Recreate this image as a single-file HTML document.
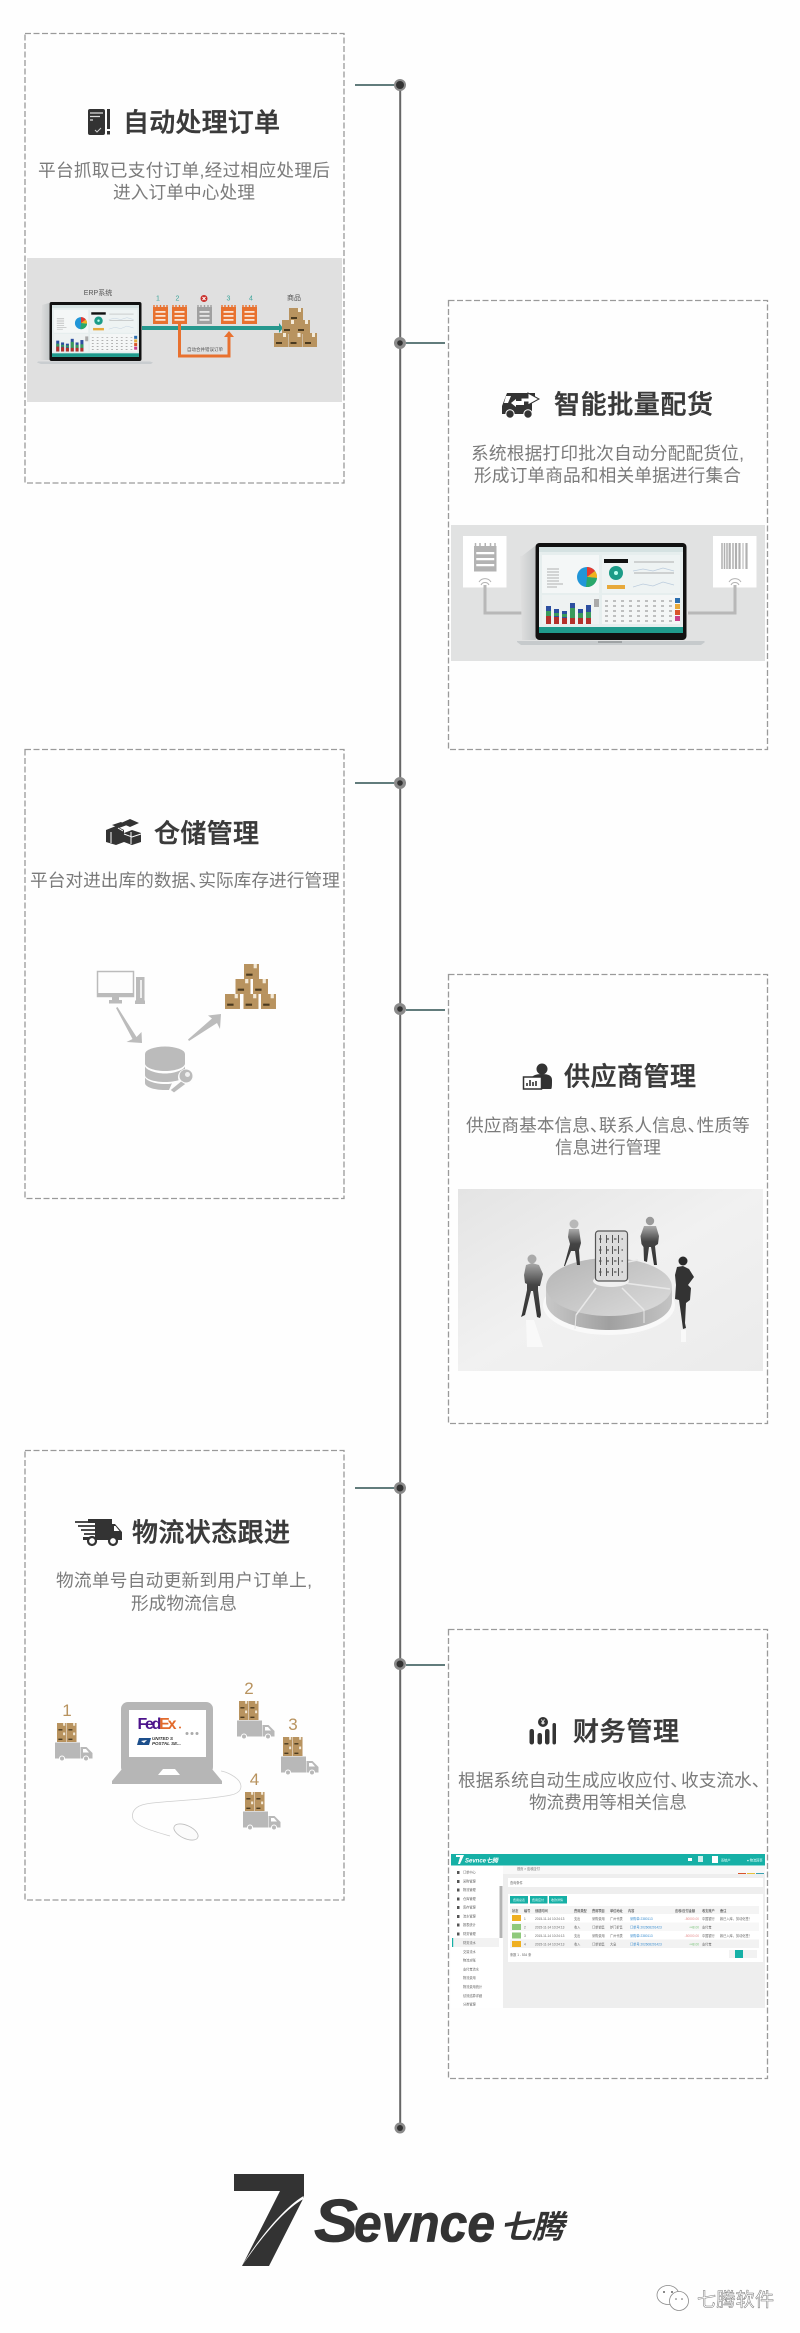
<!DOCTYPE html>
<html lang="zh"><head><meta charset="utf-8"><title>七腾软件</title>
<style>
html,body{margin:0;padding:0;background:#fefefe}
svg{display:block}
text{font-family:"Liberation Sans","Noto Sans CJK SC",sans-serif}
.t{font-size:26px;font-weight:500;fill:#3a3a3a;stroke:#3a3a3a;stroke-width:.45px}
.d{font-size:17.7px;fill:#7b7b7b}
.s{font-size:3.2px;fill:#666}
</style></head><body>
<svg xmlns="http://www.w3.org/2000/svg" width="800" height="2333" viewBox="0 0 800 2333">
<defs>
<g id="bx"><rect width="14" height="14" fill="#b8935f"/><rect x="9" width="3" height="4" fill="#f4ead8"/><rect x="2" y="9" width="6" height="2" fill="#4a3a20"/></g>
<g id="np"><rect y="2" width="15" height="17" fill="#e8712f"/><path d="M1 2v-2M4 2v-2M7.500 2v-2M11 2v-2M14 2v-2" stroke="#e8712f" stroke-width="1.400"/><rect x="2.500" y="6" width="10" height="1.800" fill="#fbe3d3"/><rect x="2.500" y="10" width="10" height="1.800" fill="#fbe3d3"/><rect x="2.500" y="14" width="10" height="1.800" fill="#fbe3d3"/></g>
<g id="scr">
<rect width="144" height="86" fill="#e6eeee"/><rect width="144" height="5" fill="#d5e2e2"/>
<rect x="3" y="8" width="57" height="38" fill="#f4f7f7"/><rect x="63" y="8" width="78" height="38" fill="#eef3f3"/>
<rect x="3" y="48" width="57" height="29" fill="#eef2f2"/><rect x="63" y="48" width="78" height="29" fill="#f4f6f6"/>
<circle cx="48" cy="30" r="10" fill="#2196d8"/>
<path d="M48 30V20A10 10 0 0 1 56 24Z" fill="#e53a2f"/><path d="M48 30L56 24A10 10 0 0 1 58 31Z" fill="#f2b21c"/><path d="M48 30L58 31A10 10 0 0 1 47 40Z" fill="#29a86a"/>
<rect x="65" y="12" width="24" height="4" fill="#111"/>
<circle cx="77" cy="26" r="7" fill="#1c9c88"/><circle cx="77" cy="26" r="2" fill="#bfe"/>
<rect x="68" y="38" width="18" height="4" fill="#e7a93b"/>
<path d="M8 22h12M8 25h12M8 28h12M8 31h12M8 34h12M8 37h16M8 40h10M95 15h40M95 26h40" stroke="#999" stroke-width=".7"/>
<path d="M94 24l10-2 10 2 10-3 11 3M94 40l10-3 10 2 10-4 11 3" fill="none" stroke="#bcd" stroke-width=".7"/>
<g><rect x="7" y="59" width="5" height="18" fill="#2c4fa0"/><rect x="7" y="64" width="5" height="5" fill="#3a9a5c"/><rect x="7" y="69" width="5" height="8" fill="#b4302b"/>
<rect x="15" y="62" width="5" height="15" fill="#2c4fa0"/><rect x="15" y="66" width="5" height="3" fill="#3a9a5c"/><rect x="15" y="70" width="5" height="7" fill="#b4302b"/>
<rect x="23" y="64" width="5" height="13" fill="#2c4fa0"/><rect x="23" y="67" width="5" height="3" fill="#3a9a5c"/><rect x="23" y="71" width="5" height="6" fill="#b4302b"/>
<rect x="31" y="56" width="5" height="21" fill="#2c4fa0"/><rect x="31" y="61" width="5" height="10" fill="#3a9a5c"/><rect x="31" y="71" width="5" height="6" fill="#b4302b"/>
<rect x="39" y="62" width="5" height="15" fill="#2c4fa0"/><rect x="39" y="66" width="5" height="5" fill="#3a9a5c"/><rect x="39" y="71" width="5" height="6" fill="#b4302b"/>
<rect x="47" y="58" width="5" height="19" fill="#2c4fa0"/><rect x="47" y="65" width="5" height="6" fill="#3a9a5c"/><rect x="47" y="71" width="5" height="6" fill="#b4302b"/></g>
<rect x="55" y="52" width="5" height="8" fill="#aaa"/>
<path d="M66 54h68M66 59h68M66 64h68M66 69h68M66 74h68" stroke="#888" stroke-width="1" stroke-dasharray="3 5"/>
<rect x="136" y="51" width="5" height="5" fill="#2c6fb0"/><rect x="136" y="57" width="5" height="5" fill="#e7a93b"/><rect x="136" y="63" width="5" height="5" fill="#d9552b"/><rect x="136" y="69" width="5" height="5" fill="#c9418a"/>
<rect y="80" width="144" height="6" fill="#1f9a8c"/>
</g>
<g id="tk">
<use href="#bx" transform="translate(57 1723) scale(.68)"/><use href="#bx" transform="translate(67 1723) scale(.68)"/><use href="#bx" transform="translate(57 1732.500) scale(.68)"/><use href="#bx" transform="translate(67 1732.500) scale(.68)"/>
<rect x="55" y="1742.500" width="25" height="16" fill="#b8b8b8"/>
<path d="M80.500 1747h6l6 6v5.500h-12z" fill="#b8b8b8"/><path d="M83 1749h3l3 3.500h-6z" fill="#fff"/>
<circle cx="62" cy="1758.500" r="2.500" fill="#b8b8b8" stroke="#fff"/><circle cx="86" cy="1758.500" r="2.500" fill="#b8b8b8" stroke="#fff"/>
</g>
<linearGradient id="bg4" x1="0" y1="0" x2="1" y2="1"><stop offset="0" stop-color="#e4e4e4"/><stop offset=".5" stop-color="#f1f1f1"/><stop offset="1" stop-color="#ebebeb"/></linearGradient>
<linearGradient id="pt" x1="0" y1="0" x2="1" y2="1"><stop offset="0" stop-color="#b4b4b4"/><stop offset="1" stop-color="#dcdcdc"/></linearGradient>
<linearGradient id="ps" x1="0" y1="0" x2="1" y2="0"><stop offset="0" stop-color="#c8c8c8"/><stop offset=".5" stop-color="#a0a0a0"/><stop offset="1" stop-color="#c4c4c4"/></linearGradient>
<linearGradient id="mg" x1="0" y1="0" x2="0" y2="1"><stop offset="0" stop-color="#aaa"/><stop offset=".4" stop-color="#444"/><stop offset="1" stop-color="#333"/></linearGradient>
<linearGradient id="sh" x1="0" y1="0" x2="1" y2="0"><stop offset="0" stop-color="#e0e0e0"/><stop offset="1" stop-color="#c3c7c8"/></linearGradient>
</defs>

<!-- timeline -->
<rect x="399.200" y="85" width="2" height="2043" fill="#666"/>
<g stroke="#2e5050" stroke-width="1.500"><path d="M355 85h39M406 343h39M355 783h39M406 1010h39M355 1488h39M406 1665h39"/></g>
<g fill="#8a8a8a"><circle cx="400" cy="85" r="6"/><circle cx="400" cy="343" r="6"/><circle cx="400" cy="783" r="6"/><circle cx="400" cy="1009" r="6"/><circle cx="400" cy="1488" r="6"/><circle cx="400" cy="1664" r="6"/><circle cx="400" cy="2128" r="5.500"/></g>
<g fill="#333"><circle cx="400" cy="85" r="4"/><circle cx="400" cy="343" r="2.800"/><circle cx="400" cy="783" r="2.800"/><circle cx="400" cy="1009" r="2.800"/><circle cx="400" cy="1488" r="3.500"/><circle cx="400" cy="1664" r="3.500"/><circle cx="400" cy="2128" r="3"/></g>

<!-- cards -->
<g fill="none" stroke="#9a9a9a" stroke-width="1.300" stroke-dasharray="6 2.500">
<rect x="25" y="33.500" width="319" height="449.500"/><rect x="448.500" y="300.500" width="319" height="449"/>
<rect x="25" y="749.500" width="319" height="449"/><rect x="448.500" y="974.500" width="319" height="449"/>
<rect x="25" y="1450.500" width="319" height="449.500"/><rect x="448.500" y="1629.500" width="319" height="449"/>
</g>

<!-- titles and descriptions -->
<text class="t" x="123" y="131.500" textLength="157">自动处理订单</text>
<text class="d" x="38" y="176.500" textLength="292">平台抓取已支付订单,经过相应处理后</text>
<text class="d" x="113" y="198.500" textLength="142">进入订单中心处理</text>
<text class="t" x="554" y="413.500" textLength="159">智能批量配货</text>
<text class="d" x="471" y="459.500" textLength="273">系统根据打印批次自动分配配货位,</text>
<text class="d" x="474" y="481.500" textLength="267">形成订单商品和相关单据进行集合</text>
<text class="t" x="154" y="842.500" textLength="105">仓储管理</text>
<text class="d" x="30" y="886.500">平台对进出库的数据、<tspan dx="-8.600">实际库存进行管理</tspan></text>
<text class="t" x="564" y="1085.500" textLength="132">供应商管理</text>
<text class="d" x="466" y="1131.500">供应商基本信息、<tspan dx="-8.500">联系人信息、</tspan><tspan dx="-8.500">性质等</tspan></text>
<text class="d" x="555" y="1153.500" textLength="106">信息进行管理</text>
<text class="t" x="132" y="1541.500" textLength="158">物流状态跟进</text>
<text class="d" x="56" y="1586.500" textLength="256">物流单号自动更新到用户订单上,</text>
<text class="d" x="131" y="1609.500" textLength="106">形成物流信息</text>
<text class="t" x="573" y="1740.500" textLength="106">财务管理</text>
<text class="d" x="458" y="1786.500">根据系统自动生成应收应付、<tspan dx="-7">收支流水、</tspan></text>
<text class="d" x="529" y="1808.500" textLength="158">物流费用等相关信息</text>

<!-- title icons -->
<rect x="88" y="109" width="17" height="26" rx="2" fill="#333"/><path d="M90 113h13M90 116.500h10M90 120h3" stroke="#ddd" stroke-width="1.200"/><path d="M95 130l2 2 4-4" fill="none" stroke="#ccc"/>
<rect x="107" y="109" width="3" height="20" fill="#333"/><rect x="107" y="131" width="3" height="3.500" fill="#333"/>

<path d="M502 414v-8l5-13h28v6h-3v15z" fill="#333"/>
<path d="M521 398h7v-4l-0 -1 11 6-11 6v-3h-7z" fill="#fff" stroke="#333" stroke-width="1"/>
<path d="M524 401h-8v-2l-5 4 5 4v-2h8z" fill="#fff"/>
<path d="M506 396h5l-3 7h-4z" fill="#fff"/>
<circle cx="510" cy="414" r="4.200" fill="#333" stroke="#fff"/><circle cx="528" cy="414" r="4.200" fill="#333" stroke="#fff"/>

<g fill="#333"><path d="M106 830l10-4 8 4v12l-8 3-10-3z"/><path d="M121 823l9-4 9 4-9 4z"/><path d="M124 833l8-3 9 3v9l-9 3-8-3z"/><path d="M112 825l9-3 6 3-8 3z"/></g>
<path d="M111 832v11M131 832v12M124 834l8 3 9-3M118 828l5 3" stroke="#fff" fill="none"/>

<circle cx="542" cy="1069" r="5.500" fill="#333"/><path d="M531 1089v-9c0-4 4-6 11-6s10 2 10 6 0 9-1 9z" fill="#333"/>
<rect x="523.500" y="1077" width="18" height="12" fill="#fff" stroke="#333" stroke-width="1.500"/><path d="M527 1086v-3M530 1086v-6M533 1086v-4M536 1086v-5" stroke="#333" stroke-width="1.600"/>

<path d="M88 1519h22v4h-22zM95 1519h17v20h-17z" fill="#333"/><path d="M112 1524h3l7 8v7h-10z" fill="#333"/><path d="M114 1526h1.500l4 5h-5.500z" fill="#fff"/>
<path d="M75 1522h20M78 1526h17M81 1530h14M84 1534h11" stroke="#333" stroke-width="1.800"/>
<rect x="83" y="1537" width="39" height="3" fill="#333"/>
<circle cx="92" cy="1541" r="4" fill="#fff" stroke="#333" stroke-width="2.200"/><circle cx="113" cy="1541" r="4" fill="#fff" stroke="#333" stroke-width="2.200"/>

<g fill="#333"><rect x="529.500" y="1729" width="4.500" height="15.500" rx="2.200"/><rect x="537.500" y="1733" width="4.500" height="11.500" rx="2.200"/><rect x="545" y="1729" width="4.500" height="15.500" rx="2.200"/><rect x="552.500" y="1723" width="3.500" height="21.500" rx="1.700"/><circle cx="543" cy="1722" r="5"/></g>
<text x="543" y="1724.500" text-anchor="middle" style="font-size:7px;font-weight:700" fill="#fff">¥</text>

<!-- band 1 -->
<rect x="27" y="258" width="315" height="144" fill="#e0e0e0"/>
<path d="M49 303l-7 2-2 55h10z" fill="url(#sh)"/>
<rect x="49.500" y="302" width="92" height="59" rx="2" fill="#111"/>
<use href="#scr" transform="translate(52 305) scale(.604)"/>
<path d="M38 361.500h112l3 1-2 1.500h-110l-4-1.500z" fill="#c9cdd0"/>
<text x="98" y="295" text-anchor="middle" style="font-size:7px" fill="#555">ERP系统</text>
<text x="294" y="300" text-anchor="middle" style="font-size:7px" fill="#555">商品</text>
<g style="font-size:7px" fill="#3fa59b" text-anchor="middle"><text x="158" y="300.500">1</text><text x="177.500" y="300.500">2</text><text x="228.500" y="300.500">3</text><text x="251" y="300.500">4</text></g>
<circle cx="204" cy="298.500" r="3.500" fill="#c9302c"/><path d="M202.500 297l3 3M205.500 297l-3 3" stroke="#fff"/>
<rect x="142" y="326" width="138" height="4" fill="#27988e"/><path d="M279 323l4 5-4 5z" fill="#27988e"/>
<path d="M179.500 322v34h49.500v-21" fill="none" stroke="#e8712f" stroke-width="3"/><path d="M224 337l5-6 5 6z" fill="#e8712f"/>
<text x="205" y="351" text-anchor="middle" style="font-size:4.500px" fill="#555">自动合并错误订单</text>
<use href="#np" transform="translate(153 305)"/><use href="#np" transform="translate(172 305)"/><use href="#np" transform="translate(221 305)"/><use href="#np" transform="translate(242 305)"/>
<g transform="translate(197 305)"><rect y="2" width="15" height="17" fill="#a0a0a0"/><path d="M1 2v-2M4 2v-2M7.500 2v-2M11 2v-2M14 2v-2" stroke="#a0a0a0" stroke-width="1.400"/><rect x="2.500" y="6" width="10" height="1.800" fill="#e6e6e6"/><rect x="2.500" y="10" width="10" height="1.800" fill="#e6e6e6"/><rect x="2.500" y="14" width="10" height="1.800" fill="#e6e6e6"/></g>
<use href="#bx" transform="translate(289 308)"/><use href="#bx" transform="translate(282 320)"/><use href="#bx" transform="translate(296 320)"/><use href="#bx" transform="translate(274 333)"/><use href="#bx" transform="translate(288.500 333)"/><use href="#bx" transform="translate(303 333)"/>

<!-- band 2 -->
<rect x="451" y="525" width="314" height="136" fill="#e1e2e2"/>
<rect x="463" y="536" width="43.500" height="51.500" fill="#fff"/><rect x="713" y="536" width="43.500" height="51.500" fill="#fff"/>
<path d="M485 585v28h52M735 585v28h-47" fill="none" stroke="#b8b8b8" stroke-width="3"/>
<g transform="translate(474 543) scale(1.500)"><rect y="2" width="15" height="17" fill="#b3b3b3"/><path d="M1 2v-2M4 2v-2M7.500 2v-2M11 2v-2M14 2v-2" stroke="#b3b3b3" stroke-width="1"/><rect x="1.500" y="6" width="12" height="1.500" fill="#fff"/><rect x="1.500" y="10" width="12" height="1.500" fill="#fff"/><rect x="1.500" y="14" width="12" height="1.500" fill="#fff"/></g>
<path d="M479 582a7 7 0 0 1 12 0M481 585a4.500 4.500 0 0 1 8 0M729 582a7 7 0 0 1 12 0M731 585a4.500 4.500 0 0 1 8 0" fill="none" stroke="#b3b3b3"/>
<g stroke="#b0b0b0"><path d="M722 543v26M724.500 543v26M727 543v26M733 543v26" stroke-width="1.500"/><path d="M729.700 543v26M736 543v26M739.500 543v26M746.500 543v26" stroke-width="2.200"/><path d="M743 543v26" stroke-width="1"/></g>
<path d="M535 546l-13 10-2 0 2 84h14z" fill="url(#sh)"/>
<rect x="535.500" y="543" width="151" height="97" rx="4" fill="#111"/>
<use href="#scr" transform="translate(539 547)"/>
<path d="M517 641h187l1 1-4 3h-180l-4-3z" fill="#c6cacc"/><rect x="598" y="641" width="24" height="2" fill="#9fa3a5"/>

<!-- band 3 -->
<rect x="97.500" y="971.500" width="36" height="25" fill="#fdfdfd" stroke="#bbb" stroke-width="1.500"/><rect x="97" y="993" width="37" height="3.500" fill="#bbb"/><path d="M112 997h7v3h3v3.500h-13v-3.500h3z" fill="#bbb"/>
<rect x="136" y="977" width="8.500" height="24" fill="#bbb"/><rect x="140" y="980" width="2" height="18" fill="#eee"/><rect x="135" y="1000.500" width="10" height="3.500" fill="#bbb"/>
<path d="M116 1008l1.500-1 19 30 5-5 .5 11-15.500-1 6-3z" fill="#bcbcbc"/>
<path d="M189 1041l-1-1.500 24-21-4-3 13-1.500-1 15-3-6z" fill="#bcbcbc"/>
<g fill="#bbb"><ellipse cx="165" cy="1054" rx="20" ry="7.500"/><path d="M145 1054h40v9.500c0 4-9 7.500-20 7.500s-20-3.500-20-7.500z"/><path d="M145 1066c0 3 9 7.500 20 7.500s20-4.500 20-7.500v9c0 4-9 7-20 7s-20-3-20-7z"/><path d="M145 1077c0 3 9 7 20 7 4 0 6 0 7-1l-3 7h-4c-11 0-20-3-20-7z"/></g>
<circle cx="186" cy="1077" r="8" fill="#fdfdfd"/><circle cx="186" cy="1076" r="6.500" fill="#bbb"/><circle cx="187.500" cy="1074.500" r="2.500" fill="#f0f0f0"/><path d="M181 1081l-11 9 4 3 12-9z" fill="#bbb" stroke="#fdfdfd"/>
<use href="#bx" transform="translate(244 964) scale(1.070)"/><use href="#bx" transform="translate(235.500 979) scale(1.070)"/><use href="#bx" transform="translate(253 979) scale(1.070)"/><use href="#bx" transform="translate(225 994) scale(1.070)"/><use href="#bx" transform="translate(243.500 994) scale(1.070)"/><use href="#bx" transform="translate(261 994) scale(1.070)"/>

<!-- image 4 -->
<rect x="458" y="1189" width="305" height="182" fill="url(#bg4)"/>
<ellipse cx="609" cy="1305" rx="66" ry="30" fill="#f9f9f9"/>
<path d="M546 1287v14c0 17 28 29 63 29s63-12 63-29v-14z" fill="url(#ps)"/>
<ellipse cx="609" cy="1287" rx="63" ry="29" fill="url(#pt)"/>
<path d="M596 1288l-20 27M622 1288l22 22M624 1283l46 6M628 1262l10 -2" stroke="#e8e8e8" stroke-width="1.500" fill="none"/>
<path d="M576 1315l-1 14M644 1310v13" stroke="#e8e8e8"/>
<ellipse cx="611" cy="1281" rx="18" ry="6" fill="#f0f0f0"/>
<rect x="595.500" y="1231" width="32" height="50" rx="3" fill="#dcdcdc" stroke="#555" stroke-width="1.200"/>
<g stroke="#555" stroke-width="1.200" stroke-dasharray="2.500 5" fill="none"><path d="M599 1239h24M599 1250h24M599 1261h24M599 1272h24"/></g>
<g fill="#555"><path d="M600 1235h1v8h-1zM606 1235h1v8h-1zM612 1235h1v8h-1zM618 1235h1v8h-1zM600 1246h1v8h-1zM606 1246h1v8h-1zM612 1246h1v8h-1zM618 1246h1v8h-1zM600 1257h1v8h-1zM606 1257h1v8h-1zM612 1257h1v8h-1zM618 1257h1v8h-1zM600 1268h1v8h-1zM606 1268h1v8h-1zM612 1268h1v8h-1zM618 1268h1v8h-1z"/></g>
<!-- people -->
<circle cx="532" cy="1259" r="4.500" fill="#aaa"/><path d="M526 1265l6-2 7 2 4 9-3 12h-2l0 4 3 25-1 3-3-1-4-26-2 0-6 24-4 2 1-3 5-24v-6l-2-1-1-8z" fill="url(#mg)"/>
<path d="M526 1320h8l9 27h-16z" fill="#f9f9f9"/>
<circle cx="574" cy="1224" r="4.500" fill="#b8b8b8"/><path d="M569 1229h10l2 14-2 7 1 15-3 0-2-14h-4l-6 15-1 0 6-22-2-7z" fill="url(#mg)"/>
<circle cx="650" cy="1221" r="4.200" fill="#9a9a9a"/><path d="M644 1226h12l3 10-1 8-3 2 2 19-3 0-3-18-2 0-2 15-3-1-.5-14-2-3-1-8z" fill="url(#mg)"/>
<circle cx="683" cy="1261" r="4.500" fill="#2a2a2a"/><path d="M677 1267l6-1 6 3 5 8-6 8 3 3-1 12-4 3-1 20 1 5-3 1-2-15-2-14-4-1 1-14-1-10z" fill="#333"/>
<rect x="681" y="1330" width="5" height="12" fill="#f9f9f9"/>

<!-- image 5 -->
<rect x="121" y="1702" width="92" height="72" rx="7" fill="#b6b6b6"/>
<rect x="129" y="1710" width="77" height="47" fill="#fff"/>
<path d="M127 1763h80l15 18v3h-110v-3z" fill="#b6b6b6"/><path d="M158 1775l5-6h12l5 6z" fill="#fff"/>
<text x="137.500" y="1729" style="font-size:16px;font-weight:700;letter-spacing:-1px" fill="#4d148c" textLength="38">Fed<tspan fill="#e26a2c">Ex</tspan></text>
<circle cx="180" cy="1727.500" r="1" fill="#e26a2c"/>
<g fill="#aaa"><circle cx="187" cy="1733.500" r="1.500"/><circle cx="192" cy="1733.500" r="1.500"/><circle cx="197" cy="1733.500" r="1.500"/></g>
<path d="M139 1738h12l-2 7h-12z" fill="#1d4f8c"/><path d="M141 1741l6-1-3 3z" fill="#fff"/>
<text x="152" y="1740" style="font-size:4.500px;font-weight:700;font-style:italic" fill="#333">UNITED S</text>
<text x="152" y="1745" style="font-size:4.500px;font-weight:700;font-style:italic" fill="#333">POSTAL SE...</text>
<path d="M221 1771c6 1 14 5 18 10 4 6 2 12-8 14-22 5-70 6-85 9-11 2-15 8-13 15 4 8 20 12 37 17" fill="none" stroke="#cfcfcf" stroke-width=".8"/>
<ellipse cx="186" cy="1832" rx="13" ry="6.500" transform="rotate(25 186 1832)" fill="#fbfbfb" stroke="#bdbdbd" stroke-width=".8"/>
<use href="#tk"/><use href="#tk" transform="translate(182 -22)"/><use href="#tk" transform="translate(226 14)"/><use href="#tk" transform="translate(188 69)"/>
<g style="font-size:17px" fill="#b8935f" text-anchor="middle"><text x="67" y="1716">1</text><text x="249" y="1694">2</text><text x="293" y="1730">3</text><text x="254.500" y="1785">4</text></g>

<!-- image 6 -->
<rect x="451" y="1854" width="314" height="154" fill="#fff"/>
<rect x="451" y="1854" width="314" height="11.500" fill="#16b0a6"/>
<path d="M456 1855h8l-4 9h-2l2-7h-4z" fill="#fff"/>
<text x="465" y="1862.500" style="font-size:6px;font-weight:700;font-style:italic" fill="#fff">Sevnce七腾</text>
<g fill="#fff"><rect x="712" y="1856" width="6" height="7"/><rect x="688" y="1858" width="4" height="3"/><rect x="698" y="1856" width="5" height="6" opacity=".8"/></g>
<text x="747" y="1861.500" class="s" style="fill:#e6fffb">● 物流回事</text>
<text x="721" y="1861.500" class="s" style="fill:#e6fffb">系统户</text>
<rect x="503" y="1866" width="262" height="142" fill="#eee"/>
<rect x="503" y="1866" width="262" height="8" fill="#f8f8f8"/>
<rect x="499.500" y="1886" width="3" height="52" fill="#b4b4b4"/>
<rect x="452" y="1938" width="47" height="9" fill="#f2f2f2"/><rect x="452" y="1938" width="1.200" height="9" fill="#16b0a6"/>
<g class="s"><text class="s" x="463" y="1873.500">订单中心</text><text class="s" x="463" y="1882.500">采购管理</text><text class="s" x="463" y="1891">物流管理</text><text class="s" x="463" y="1900">仓库管理</text><text class="s" x="463" y="1908.500">库存管理</text><text class="s" x="463" y="1917.500">流水管理</text><text class="s" x="463" y="1926">报表统计</text><text class="s" x="463" y="1935">财务管理</text><text class="s" x="463" y="1944">财务流水</text><text class="s" x="463" y="1953">交易流水</text><text class="s" x="463" y="1961.500">物流对账</text><text class="s" x="463" y="1970.500">支付宝流水</text><text class="s" x="463" y="1979">物流费用</text><text class="s" x="463" y="1988">物流费用统计</text><text class="s" x="463" y="1997">绩效结算详细</text><text class="s" x="463" y="2005.500">分类管理</text></g>
<g fill="#555"><rect x="457" y="1871" width="2.500" height="3"/><rect x="457" y="1880" width="2.500" height="3"/><rect x="457" y="1888.500" width="2.500" height="3"/><rect x="457" y="1897.500" width="2.500" height="3"/><rect x="457" y="1906" width="2.500" height="3"/><rect x="457" y="1915" width="2.500" height="3"/><rect x="457" y="1923.500" width="2.500" height="3"/><rect x="457" y="1932.500" width="2.500" height="3"/></g>
<text x="517" y="1870" class="s">首页 > 应收应付</text>
<path d="M738 1873.500h8" stroke="#d9552b" stroke-width="1"/><path d="M747 1873.500h8" stroke="#e7c13b" stroke-width="1"/><path d="M756 1873.500h8" stroke="#3aa0b0" stroke-width="1"/>
<rect x="508" y="1878" width="255" height="9" fill="#fff"/><text x="510" y="1884" class="s">查询条件</text>
<rect x="508" y="1894" width="255" height="68" fill="#fff"/>
<g fill="#16b0a6"><rect x="510" y="1896" width="18" height="7.500"/><rect x="530" y="1896" width="17.500" height="7.500"/><rect x="549" y="1896" width="18" height="7.500"/></g>
<g fill="#e7fbf9" style="font-size:3px"><text x="513" y="1901">费用总表</text><text x="532" y="1901">费用应付</text><text x="551" y="1901">收款详情</text></g>
<rect x="510" y="1906" width="249" height="8" fill="#f4f4f4"/><rect x="510" y="1922.500" width="249" height="8.500" fill="#f7f7f7"/><rect x="510" y="1939.500" width="249" height="8.500" fill="#f2f2f2"/>
<g class="s" style="font-weight:700"><text class="s" x="512" y="1912">状态</text><text class="s" x="524" y="1912">编号</text><text class="s" x="535" y="1912">创建时间</text><text class="s" x="574" y="1912">费用类型</text><text class="s" x="592" y="1912">费用项目</text><text class="s" x="610" y="1912">单位地址</text><text class="s" x="628" y="1912">内容</text><text class="s" x="675" y="1912">应收/应付金额</text><text class="s" x="702" y="1912">收支账户</text><text class="s" x="720" y="1912">备注</text></g>
<rect x="512" y="1915" width="9" height="6" fill="#efb022"/><rect x="512" y="1924" width="9" height="6" fill="#8fc97c"/><rect x="512" y="1932.500" width="9" height="6" fill="#8fc97c"/><rect x="512" y="1941" width="9" height="6" fill="#efb022"/>
<text class="s" x="524" y="1920">1</text><text class="s" x="524" y="1928.500">2</text><text class="s" x="524" y="1937">3</text><text class="s" x="524" y="1945.500">4</text>
<text class="s" x="535" y="1920">2015-11-14 10:24:13</text><text class="s" x="535" y="1928.500">2015-11-14 10:24:13</text><text class="s" x="535" y="1937">2015-11-14 10:24:13</text><text class="s" x="535" y="1945.500">2015-11-14 10:24:13</text>
<g class="s"><text class="s" x="574" y="1920">支出</text><text class="s" x="592" y="1920">采购费用</text><text class="s" x="610" y="1920">广州代表</text><text class="s" x="574" y="1928.500">收入</text><text class="s" x="592" y="1928.500">订单销售</text><text class="s" x="610" y="1928.500">炉门折售</text><text class="s" x="574" y="1937">支出</text><text class="s" x="592" y="1937">采购费用</text><text class="s" x="610" y="1937">广州代表</text><text class="s" x="574" y="1945.500">收入</text><text class="s" x="592" y="1945.500">订单销售</text><text class="s" x="610" y="1945.500">大息</text></g>
<g style="font-size:3.200px" fill="#3b8ed0"><text x="630" y="1920">采购单:2380113</text><text x="630" y="1928.500">订单号:202608291423</text><text x="630" y="1937">采购单:2380113</text><text x="630" y="1945.500">订单号:202608291423</text></g>
<g style="font-size:3.200px" text-anchor="end"><text x="699" y="1920" fill="#e58b8b">-50000.00</text><text x="699" y="1928.500" fill="#7cc47c">+48.00</text><text x="699" y="1937" fill="#e58b8b">-50000.00</text><text x="699" y="1945.500" fill="#7cc47c">+48.00</text></g>
<g class="s"><text class="s" x="702" y="1920">中国银行</text><text class="s" x="702" y="1928.500">支付宝</text><text class="s" x="702" y="1937">中国银行</text><text class="s" x="702" y="1945.500">支付宝</text><text class="s" x="720" y="1920">款已入库，劳动化签！</text><text class="s" x="720" y="1937">款已入库，劳动化签！</text></g>
<text class="s" x="510" y="1956">条数 1 - 534 条</text>
<rect x="729" y="1950" width="7" height="8" fill="#f2f2f2"/><rect x="735" y="1950" width="8" height="8" fill="#16b0a6"/><rect x="743" y="1950" width="7" height="8" fill="#f2f2f2"/><rect x="750" y="1950" width="7" height="8" fill="#f2f2f2"/>

<!-- logo -->
<path d="M234 2174h70v23l-35 69h-27l38-75h-46z" fill="#333"/>
<path d="M303.500 2196c-20 12-46 44-61 69 18-26 42-56 61-66z" fill="#fff"/>
<g style="font-weight:700;font-style:italic" fill="#333" stroke="#333" stroke-width=".8">
<text x="314" y="2241.500" style="font-size:60px" textLength="44" lengthAdjust="spacingAndGlyphs">S</text>
<text x="354" y="2241.500" style="font-size:53px" textLength="141" lengthAdjust="spacingAndGlyphs">evnce</text>
</g>
<text x="500" y="2238" style="font-size:32px;font-weight:700;font-style:italic" fill="#333" textLength="64">七腾</text>

<!-- watermark -->
<g fill="#fff" stroke="#8a8a8a" stroke-width=".8"><ellipse cx="668" cy="2295" rx="11" ry="9.500"/><circle cx="679" cy="2301" r="9.500"/></g>
<g fill="#666"><circle cx="664" cy="2292" r="1"/><circle cx="672" cy="2292" r="1"/><circle cx="676" cy="2299" r=".8"/><circle cx="682" cy="2299" r=".8"/></g>
<text x="697" y="2306" style="font-size:19px;stroke:#777;stroke-width:.5px" fill="#fff" textLength="77">七腾软件</text>
</svg>
</body></html>
